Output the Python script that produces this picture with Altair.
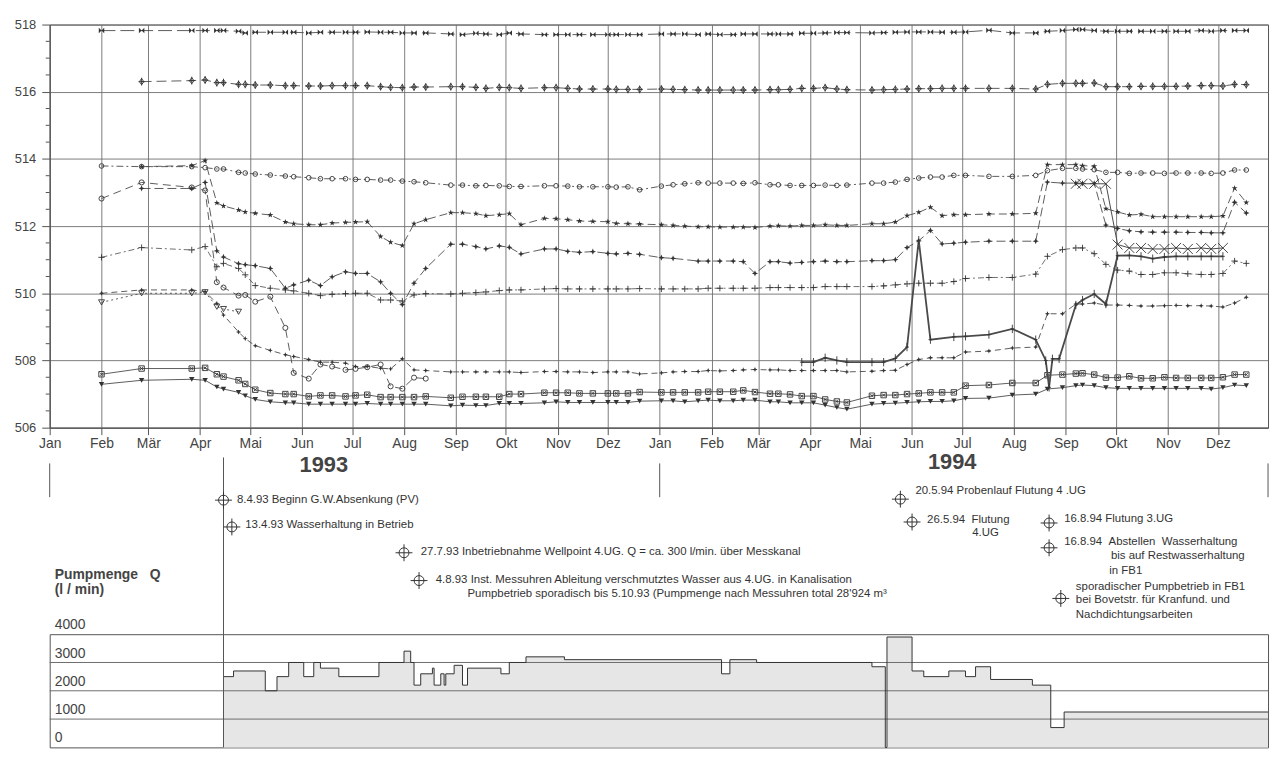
import altair as alt
import pandas as pd

# ------------------------------------------------------------------ data
DATES = [
    "1993-02-01", "1993-02-25", "1993-03-27", "1993-04-04", "1993-04-11", "1993-04-15",
    "1993-04-24", "1993-04-28", "1993-05-04", "1993-05-13", "1993-05-22", "1993-05-27",
    "1993-06-05", "1993-06-12", "1993-06-19", "1993-06-27", "1993-07-03", "1993-07-10",
    "1993-07-18", "1993-07-24", "1993-07-31", "1993-08-07", "1993-08-14", "1993-08-29",
    "1993-09-05", "1993-09-13", "1993-09-19", "1993-09-27", "1993-10-03", "1993-10-10",
    "1993-10-24", "1993-10-31", "1993-11-07", "1993-11-14", "1993-11-22", "1993-12-01",
    "1993-12-06", "1993-12-13", "1993-12-20", "1994-01-02", "1994-01-09", "1994-01-16",
    "1994-01-24", "1994-01-30", "1994-02-06", "1994-02-14", "1994-02-20", "1994-02-27",
    "1994-03-08", "1994-03-13", "1994-03-20", "1994-03-27", "1994-04-03", "1994-04-10",
    "1994-04-17", "1994-04-23", "1994-05-08", "1994-05-15", "1994-05-22", "1994-05-29",
    "1994-06-05", "1994-06-12", "1994-06-19", "1994-06-26", "1994-07-03", "1994-07-17",
    "1994-07-31", "1994-08-14", "1994-08-21", "1994-08-30", "1994-09-07", "1994-09-11",
    "1994-09-18", "1994-09-25", "1994-10-02", "1994-10-09", "1994-10-16", "1994-10-23",
    "1994-10-30", "1994-11-06", "1994-11-13", "1994-11-21", "1994-11-27", "1994-12-04",
    "1994-12-11", "1994-12-18",
]

S1 = [
    517.82, 517.82, 517.82, 517.82, 517.82, 517.82,
    517.80, 517.75, 517.77, 517.77, 517.77, 517.77,
    517.75, 517.77, 517.77, 517.77, 517.77, 517.78,
    517.77, 517.77, 517.75, 517.75, 517.75, 517.72,
    517.70, 517.74, 517.72, 517.70, 517.75, 517.72,
    517.70, 517.70, 517.70, 517.70, 517.70, 517.70,
    517.70, 517.70, 517.70, 517.72, 517.72, 517.72,
    517.70, 517.72, 517.70, 517.70, 517.72, 517.72,
    517.72, 517.72, 517.72, 517.74, 517.74, 517.75,
    517.76, 517.76, 517.75, 517.76, 517.77, 517.78,
    517.78, 517.78, 517.77, 517.77, 517.78, 517.83,
    517.75, 517.75, 517.80, 517.82, 517.85, 517.85,
    517.82, 517.80, 517.80, 517.80, 517.80, 517.80,
    517.80, 517.80, 517.80, 517.82, 517.80, 517.82,
    517.82, 517.82,
]
S2 = [
    None, 516.30, 516.33, 516.35, 516.27, 516.27,
    516.22, 516.22, 516.20, 516.20, 516.18, 516.18,
    516.17, 516.17, 516.18, 516.18, 516.18, 516.18,
    516.15, 516.13, 516.12, 516.14, 516.14, 516.15,
    516.15, 516.13, 516.10, 516.13, 516.12, 516.10,
    516.12, 516.12, 516.10, 516.08, 516.08, 516.08,
    516.07, 516.07, 516.07, 516.08, 516.07, 516.06,
    516.05, 516.05, 516.05, 516.05, 516.05, 516.05,
    516.06, 516.06, 516.07, 516.10, 516.10, 516.12,
    516.08, 516.06, 516.05, 516.06, 516.07, 516.08,
    516.09, 516.09, 516.10, 516.10, 516.10, 516.10,
    516.10, 516.08, 516.22, 516.25, 516.25, 516.25,
    516.26, 516.15, 516.15, 516.15, 516.16, 516.16,
    516.16, 516.16, 516.17, 516.18, 516.18, 516.17,
    516.22, 516.21,
]
S3 = [
    513.79, 513.77, 513.77, 513.74, 513.70, 513.70,
    513.60, 513.58, 513.55, 513.52, 513.49, 513.47,
    513.44, 513.41, 513.41, 513.41, 513.39, 513.39,
    513.37, 513.37, 513.34, 513.32, 513.29, 513.22,
    513.22, 513.20, 513.21, 513.20, 513.18, 513.18,
    513.20, 513.20, 513.19, 513.17, 513.17, 513.17,
    513.16, 513.17, 513.08, 513.19, 513.23, 513.26,
    513.29, 513.28, 513.28, 513.28, 513.27, 513.29,
    513.23, 513.23, 513.21, 513.21, 513.21, 513.22,
    513.21, 513.22, 513.28, 513.28, 513.31, 513.39,
    513.43, 513.46, 513.46, 513.51, 513.51, 513.48,
    513.48, 513.51, 513.65, 513.72, 513.72, 513.70,
    513.68, 513.60, 513.60, 513.57, 513.58, 513.58,
    513.57, 513.58, 513.58, 513.58, 513.57, 513.58,
    513.67, 513.67,
]
S4 = [
    None, 513.77, 513.80, 513.95, 512.69, 512.60,
    512.48, 512.42, 512.38, 512.33, 512.12, 512.07,
    512.04, 512.04, 512.09, 512.11, 512.12, 512.13,
    511.69, 511.52, 511.42, 512.07, 512.19, 512.40,
    512.40, 512.37, 512.31, 512.34, 512.37, 512.04,
    512.23, 512.22, 512.19, 512.15, 512.14, 512.13,
    512.08, 512.07, 512.06, 512.04, 512.02, 512.00,
    511.98, 511.98, 511.97, 511.97, 511.97, 511.96,
    512.00, 512.01, 512.00, 512.02, 512.02, 512.04,
    512.02, 512.02, 512.07, 512.07, 512.12, 512.31,
    512.41, 512.56, 512.31, 512.34, 512.34, 512.36,
    512.36, 512.38, 513.83, 513.83, 513.83, 513.80,
    513.78, 512.52, 512.42, 512.33, 512.35, 512.28,
    512.28, 512.28, 512.28, 512.28, 512.28, 512.30,
    513.13, 512.70,
]
S5 = [
    None, 513.12, 513.12, 513.30, 511.26, 511.08,
    510.88, 510.85, 510.82, 510.74, 510.15, 510.25,
    510.39, 510.23, 510.49, 510.64, 510.59, 510.59,
    510.34, 510.00, 509.66, 510.30, 510.74, 511.46,
    511.46, 511.39, 511.32, 511.41, 511.37, 511.17,
    511.32, 511.32, 511.25, 511.22, 511.24, 511.19,
    511.17, 511.19, 511.16, 511.06, 511.04, None,
    510.96, 510.96, 510.96, 510.96, 510.94, 510.59,
    510.94, 510.94, 510.90, 510.92, 510.94, 510.96,
    510.94, 510.94, 510.97, 510.97, 511.00, 511.36,
    511.56, 511.87, 511.47, 511.49, 511.52, 511.55,
    511.55, 511.55, 513.31, 513.28, 513.28, 513.27,
    513.27, 512.03, 511.93, 511.86, 511.83, 511.82,
    511.82, 511.82, 511.81, 511.81, 511.80, 511.80,
    512.71, 512.39,
]
S6 = [
    511.07, 511.36, 511.29, 511.39, 510.79, 510.89,
    510.74, 510.55, 510.23, 510.15, 510.10, 510.07,
    510.00, 509.93, 509.97, 509.99, 510.00, 510.00,
    509.80, 509.80, 509.77, 509.95, 509.99, 509.98,
    510.00, 510.02, 510.04, 510.08, 510.10, 510.10,
    510.13, 510.14, 510.13, 510.13, 510.13, 510.13,
    510.13, 510.13, 510.14, 510.13, 510.13, 510.13,
    510.13, 510.15, 510.15, 510.15, 510.15, 510.15,
    510.17, 510.17, 510.17, 510.17, 510.17, 510.20,
    510.20, 510.20, 510.20, 510.22, 510.25, 510.28,
    510.30, 510.30, 510.30, 510.35, 510.44, 510.47,
    510.47, 510.57, 511.10, 511.30, 511.35, 511.35,
    511.18, 510.86, 510.69, 510.66, 510.56, 510.56,
    510.61, 510.61, 510.58, 510.56, 510.56, 510.59,
    510.96, 510.89,
]
S7 = [
    510.00, 510.10, 510.10, 510.05, 509.70, 509.35,
    508.85, 508.65, 508.44, 508.30, 508.17, 508.12,
    508.03, 507.95, 507.95, 507.92, 507.82, 507.82,
    507.77, 507.75, 508.05, 507.72, 507.70, 507.66,
    507.66, 507.66, 507.66, 507.66, 507.66, 507.64,
    507.67, 507.67, 507.66, 507.66, 507.64, 507.66,
    507.66, 507.66, 507.60, 507.63, 507.66, 507.67,
    507.67, 507.70, 507.69, 507.70, 507.72, 507.73,
    507.72, 507.72, 507.70, 507.70, 507.70, 507.70,
    507.70, 507.66, 507.68, 507.70, 507.71, 507.88,
    508.03, 508.08, 508.08, 508.08, 508.25, 508.28,
    508.37, 508.40, 509.39, 509.39, 509.68, 509.68,
    509.71, 509.65, 509.65, 509.64, 509.62, 509.62,
    509.63, 509.64, 509.63, 509.63, 509.62, 509.59,
    509.71, 509.88,
]
S8_DATES = DATES[:23]
S8 = [
    512.82, 513.30, 513.15, 513.06, 510.33, 510.17,
    509.93, 509.95, 509.75, 509.90, 508.97, 507.63,
    507.46, 507.88, 507.82, 507.72, 507.75, 507.80,
    507.88, 507.23, 507.16, 507.49, 507.46,
]
S9_DATES = DATES[:7]
S9 = [509.73, 510.00, 510.00, 510.03, 509.60, 509.53, 509.45]
S10 = [
    507.59, 507.76, 507.76, 507.78, 507.59, 507.52,
    507.41, 507.30, 507.13, 507.03, 507.00, 507.00,
    506.93, 506.96, 506.96, 506.93, 506.96, 506.98,
    506.91, 506.91, 506.91, 506.91, 506.93, 506.89,
    506.92, 506.92, 506.92, 506.92, 507.00, 507.00,
    507.04, 507.04, 507.04, 507.02, 507.02, 507.02,
    507.02, 507.02, 507.06, 507.05, 507.05, 507.05,
    507.05, 507.07, 507.07, 507.07, 507.11, 507.06,
    507.01, 507.01, 506.99, 506.94, 506.94, 506.84,
    506.78, 506.75, 506.95, 506.97, 506.97, 507.00,
    507.02, 507.05, 507.05, 507.05, 507.25, 507.27,
    507.33, 507.33, 507.56, 507.58, 507.61, 507.62,
    507.58, 507.49, 507.49, 507.53, 507.47, 507.47,
    507.50, 507.48, 507.48, 507.48, 507.48, 507.50,
    507.58, 507.58,
]
S11 = [
    507.29, 507.41, 507.44, 507.41, 507.21, 507.15,
    507.05, 506.95, 506.84, 506.77, 506.74, 506.74,
    506.70, 506.70, 506.70, 506.70, 506.70, 506.72,
    506.70, 506.70, 506.70, 506.70, 506.70, 506.65,
    506.67, 506.66, 506.66, 506.72, 506.72, 506.72,
    506.74, 506.77, 506.75, 506.75, 506.75, 506.75,
    506.75, 506.75, 506.79, 506.80, 506.80, 506.77,
    506.80, 506.82, 506.80, 506.80, 506.82, 506.82,
    506.77, 506.77, 506.74, 506.74, 506.74, 506.67,
    506.60, 506.55, 506.70, 506.72, 506.73, 506.75,
    506.77, 506.78, 506.78, 506.80, 506.87, 506.88,
    506.97, 507.00, 507.15, 507.19, 507.25, 507.27,
    507.25, 507.19, 507.17, 507.17, 507.17, 507.17,
    507.17, 507.17, 507.17, 507.17, 507.15, 507.19,
    507.27, 507.25,
]
S12_DATES = [
    "1994-03-27", "1994-04-03", "1994-04-10", "1994-04-17", "1994-04-23", "1994-05-08",
    "1994-05-15", "1994-05-22", "1994-05-29", "1994-06-05", "1994-06-12", "1994-06-26",
    "1994-07-03", "1994-07-17", "1994-07-31", "1994-08-14", "1994-08-20", "1994-08-22",
    "1994-08-24", "1994-08-28", "1994-09-07", "1994-09-11", "1994-09-18", "1994-09-25",
    "1994-10-02", "1994-10-09", "1994-10-16", "1994-10-23", "1994-10-30", "1994-11-06",
    "1994-11-13", "1994-11-21", "1994-11-27", "1994-12-04",
]
S12 = [
    507.95, 507.95, 508.08, 508.00, 507.95, 507.95,
    507.95, 508.06, 508.40, 511.58, 508.62, 508.70,
    508.72, 508.77, 508.94, 508.62, 508.00, 507.20,
    508.05, 508.05, 509.65, 509.80, 509.98, 509.68,
    511.12, 511.13, 511.10, 511.03, 511.08, 511.10,
    511.10, 511.10, 511.10, 511.10,
]
S13_DATES = DATES[70:84]
S13 = [
    513.26, 513.26, 513.26, 513.26, 511.45, 511.35, 511.35,
    511.32, 511.32, 511.35, 511.32, 511.35, 511.32, 511.35,
]

PUMP_DATES = [
    "1993-04-15", "1993-04-21", "1993-05-10", "1993-05-17", "1993-05-24", "1993-06-02",
    "1993-06-08", "1993-06-12", "1993-06-23", "1993-07-17", "1993-08-01", "1993-08-05",
    "1993-08-07", "1993-08-11", "1993-08-18", "1993-08-19", "1993-08-23", "1993-08-25",
    "1993-08-26", "1993-08-31", "1993-09-05", "1993-09-08", "1993-09-28", "1993-10-03",
    "1993-10-13", "1993-11-05", "1994-02-07", "1994-02-12", "1994-02-28", "1994-05-08",
    "1994-05-16", "1994-05-17", "1994-06-01", "1994-06-08", "1994-06-23", "1994-07-03",
    "1994-07-09", "1994-07-18", "1994-08-12", "1994-08-23", "1994-08-31", "1994-12-31",
]
PUMP_Q = [
    2500, 2700, 2000, 2500, 3000, 2500,
    3000, 2800, 2500, 3000, 3400, 3000,
    2200, 2600, 2800, 2200, 2600, 2200,
    2600, 2900, 2200, 2800, 2600, 3000,
    3200, 3100, 2600, 3100, 3000, 2850,
    0, 3900, 2700, 2500, 2700, 2500,
    2850, 2400, 2200, 700, 1250, 1250,
]

MONTHS = ["Jan", "Feb", "Mär", "Apr", "Mai", "Jun", "Jul", "Aug", "Sep", "Okt", "Nov", "Dez"]
Y_TICKS = [506, 508, 510, 512, 514, 516, 518]
Y_MINOR = [506.5, 507, 507.5, 508.5, 509, 509.5, 510.5, 511, 511.5, 512.5, 513, 513.5,
           514.5, 515, 515.5, 516.5, 517, 517.5]
PUMP_TICKS = [0, 1000, 2000, 3000, 4000]
PUMP_GRID = [1000, 2000, 3000]

YEAR_TEXT = ["1993", "1994"]
YEAR_DATES = ["1993-06-14", "1994-06-25"]
PUMP_START = "1993-04-15"
SEP_DATES = ["1993-01-01", "1994-01-01", "1994-12-31"]

NOTE_TEXT = [
    "8.4.93 Beginn G.W.Absenkung (PV)",
    "13.4.93 Wasserhaltung in Betrieb",
    "27.7.93 Inbetriebnahme Wellpoint 4.UG. Q = ca. 300 l/min. über Messkanal",
    "4.8.93 Inst. Messuhren Ableitung verschmutztes Wasser aus 4.UG. in Kanalisation",
    "Pumpbetrieb sporadisch bis 5.10.93 (Pumpmenge nach Messuhren total 28'924 m³",
    "20.5.94 Probenlauf Flutung 4 .UG",
    "26.5.94\u00a0\u00a0Flutung",
    "4.UG",
    "16.8.94 Flutung 3.UG",
    "16.8.94\u00a0\u00a0Abstellen\u00a0\u00a0Wasserhaltung",
    "bis auf Restwasserhaltung",
    "in FB1",
    "sporadischer Pumpbetrieb in FB1",
    "bei Bovetstr. für Kranfund. und",
    "Nachdichtungsarbeiten",
]
NOTE_DATES = ["1993-04-23", "1993-04-28", "1993-08-11", "1993-08-20", "1993-09-08",
              "1994-06-03", "1994-06-10", "1994-07-07", "1994-08-31", "1994-08-31",
              "1994-09-28", "1994-09-27", "1994-09-07", "1994-09-07", "1994-09-07"]
CROSS_DATES = ["1993-04-15", "1993-04-20", "1993-08-01", "1993-08-10", "1994-05-25",
               "1994-06-01", "1994-08-22", "1994-08-22", "1994-08-29"]
PUMP_TITLE = ["Pumpmenge\u00a0\u00a0\u00a0Q", "(l / min)"]

# ------------------------------------------------------------------ layout / style
W, HA, HB, HC = 1227, 406, 208, 114
NOTE_ROWS = [73, 98, 125, 153, 168, 64, 93, 106, 92, 115, 129, 144, 160, 174, 189]
CROSS_ROWS = [73, 100, 126, 154, 72, 95, 96, 121, 172]
YEAR_ROWS = [38, 35]
TITLE_ROWS = [148, 164]
FONT = "Liberation Sans"
INK = "#333333"
LINE = "#4a4a4a"
GRIDC = "#6e6e6e"
AXC = "#555555"
TXT = "#444444"

P_BOWTIE = "M-1,-1L1,1L1,-1L-1,1Z"
P_PLUSDIA = "M0,-1L0.7,0L0,1L-0.7,0ZM0,-1.25L0,1.25M-1,0L1,0"
P_STAR5 = ("M0,-1L0.224,-0.309L0.951,-0.309L0.363,0.118L0.588,0.809L0,0.382"
           "L-0.588,0.809L-0.363,0.118L-0.951,-0.309L-0.224,-0.309Z")
P_STAR4 = "M0,-1L0.28,-0.28L1,0L0.28,0.28L0,1L-0.28,0.28L-1,0L-0.28,-0.28Z"
P_PLUS = "M-1,0L1,0M0,-1L0,1"
P_BOXX = "M-1,-1L1,-1L1,1L-1,1ZM-0.6,-0.6L0.6,0.6M-0.6,0.6L0.6,-0.6"
P_TICK = "M0,-1L0,1M-0.45,0L0.45,0"
P_X = "M-1,-1L1,1M-1,1L1,-1"
P_CROSSHAIR = "M-1,0A1,1,0,1,1,1,0A1,1,0,1,1,-1,0ZM-1.7,0L1.7,0M0,-1.7L0,1.7"

SERIES = [
    (DATES, S1, P_BOWTIE, 30, True, [14, 5], 0.9),
    (DATES, S2, P_PLUSDIA, 40, False, [10, 5], 0.9),
    (DATES, S3, "circle", 22, False, [7, 3, 2, 3], 0.9),
    (DATES, S4, P_STAR5, 40, True, [8, 4], 0.9),
    (DATES, S5, P_STAR4, 40, True, [9, 4], 0.9),
    (DATES, S6, P_PLUS, 40, False, [6, 3, 2, 3], 0.8),
    (DATES, S7, P_STAR4, 26, True, [6, 4], 0.9),
    (S8_DATES, S8, "circle", 26, False, [8, 5], 0.9),
    (S9_DATES, S9, "triangle-down", 36, False, [2, 3], 0.9),
    (DATES, S10, P_BOXX, 30, False, None, 0.9),
    (DATES, S11, "triangle-down", 30, True, None, 0.9),
    (S12_DATES, S12, P_TICK, 70, False, None, 1.8),
    (S13_DATES, S13, P_X, 100, False, None, 1.0),
]

# ------------------------------------------------------------------ scales / axes
XDOM = [alt.DateTime(year=1993, month=1, date=1, utc=True),
        alt.DateTime(year=1994, month=12, date=31, utc=True)]
XS = alt.Scale(type="utc", domain=XDOM)
MONTH_TICKS = [alt.DateTime(year=y, month=m, date=1, utc=True)
               for y in (1993, 1994) for m in range(1, 13)]
label_expr = "[" + ",".join("'%s'" % m for m in MONTHS) + "][utcmonth(datum.value)]"

AX_X = alt.Axis(values=MONTH_TICKS, labelExpr=label_expr, grid=True, gridColor=GRIDC,
                gridWidth=0.9, tickSize=7, tickColor=AXC, domainColor=AXC,
                labelFontSize=14, labelColor=TXT, labelPadding=2, labelFlush=False,
                labelOverlap=False)
AX_Y = alt.Axis(values=Y_TICKS, grid=True, gridColor=GRIDC, gridWidth=0.9, tickSize=8,
                tickColor=AXC, domainColor=AXC, labelFontSize=13, labelColor=TXT,
                labelPadding=6)
X = alt.X("date:T", scale=XS, axis=AX_X, title=None)
Y = alt.Y("value:Q", scale=alt.Scale(domain=[506, 518], nice=False, zero=False),
          axis=AX_Y, title=None)

# ------------------------------------------------------------------ panel A: water levels
layers = [
    alt.Chart(pd.DataFrame({"value": Y_MINOR})).mark_rule(color=AXC).encode(
        y=Y, x=alt.value(-4), x2=alt.value(0))
]
for dts, vals, shape, size, filled, dash, sw in SERIES:
    df = pd.DataFrame({"date": dts, "value": vals}).dropna()
    lkw = dict(color=LINE, strokeWidth=sw)
    if dash:
        lkw["strokeDash"] = dash
    layers.append(alt.Chart(df).mark_line(**lkw).encode(x=X, y=Y))
    layers.append(alt.Chart(df).mark_point(shape=shape, size=size, filled=filled, color=INK,
                                           opacity=1, strokeWidth=0.9).encode(x=X, y=Y))
panel_a = alt.layer(*layers).properties(
    width=W, height=HA, view=alt.ViewBackground(stroke=AXC, strokeWidth=1))

# ------------------------------------------------------------------ panel B: annotations
XB = alt.X("date:T", scale=XS, axis=None)
YB = alt.Y("row:Q", scale=alt.Scale(domain=[0, HB], reverse=True, nice=False, zero=False),
           axis=None)
years = alt.Chart(pd.DataFrame({"date": YEAR_DATES, "row": YEAR_ROWS, "t": YEAR_TEXT})
                  ).mark_text(fontSize=22, fontWeight="bold", color=TXT, align="center",
                              baseline="middle").encode(x=XB, y=YB, text="t:N")
seps = alt.Chart(pd.DataFrame({"date": SEP_DATES, "row": [36] * 3, "row2": [70] * 3})
                 ).mark_rule(color=AXC).encode(x=XB, y=YB, y2="row2:Q")
start_b = alt.Chart(pd.DataFrame({"date": [PUMP_START], "row": [30], "row2": [HB]})
                    ).mark_rule(color=AXC).encode(x=XB, y=YB, y2="row2:Q")
crosses = alt.Chart(pd.DataFrame({"date": CROSS_DATES, "row": CROSS_ROWS})).mark_point(
    shape=P_CROSSHAIR, size=100, filled=False, color=INK, opacity=1, strokeWidth=1
).encode(x=XB, y=YB)
notes = alt.Chart(pd.DataFrame({"date": NOTE_DATES, "row": NOTE_ROWS, "t": NOTE_TEXT})
                  ).mark_text(fontSize=11.5, color=INK, align="left", baseline="middle"
                              ).encode(x=XB, y=YB, text="t:N")
ptitle = alt.Chart(pd.DataFrame({"date": ["1993-01-04"] * 2, "row": TITLE_ROWS, "t": PUMP_TITLE})
                   ).mark_text(fontSize=14, fontWeight="bold", color=TXT, align="left",
                               baseline="middle").encode(x=XB, y=YB, text="t:N")
panel_b = alt.layer(start_b, seps, years, crosses, notes, ptitle).properties(
    width=W, height=HB, view=alt.ViewBackground(stroke="transparent"))

# ------------------------------------------------------------------ panel C: pump rate
XC = alt.X("date:T", scale=XS, axis=None)
YC = alt.Y("q:Q", scale=alt.Scale(domain=[0, 4000], nice=False), axis=None, title=None)
pump_df = pd.DataFrame({"date": PUMP_DATES, "q": PUMP_Q})
area = alt.Chart(pump_df).mark_area(interpolate="step-after", color="#e6e6e6",
                                    opacity=1).encode(x=XC, y=YC)
hgrid = alt.Chart(pd.DataFrame({"q": PUMP_GRID})).mark_rule(color=GRIDC, strokeWidth=1
                                                            ).encode(y=YC)
step = alt.Chart(pump_df).mark_line(interpolate="step-after", color=INK,
                                    strokeWidth=1).encode(x=XC, y=YC)
start_c = alt.Chart(pd.DataFrame({"date": [PUMP_START]})).mark_rule(color=AXC).encode(x=XC)
plabels = alt.Chart(pd.DataFrame({"date": ["1993-01-01"] * 5, "q": PUMP_TICKS,
                                  "t": [str(v) for v in PUMP_TICKS]})).mark_text(
    fontSize=14, color=TXT, align="left", baseline="middle", dx=5, dy=-9
).encode(x=XC, y=YC, text="t:N")
panel_c = alt.layer(area, hgrid, step, start_c, plabels).properties(
    width=W, height=HC, view=alt.ViewBackground(stroke=AXC, strokeWidth=1))

chart = alt.vconcat(panel_a, panel_b, panel_c, spacing=0, bounds="flush").properties(
    padding={"left": 5, "top": 7, "right": 0, "bottom": 0}
).configure(font=FONT, background="white").configure_axis(labelFont=FONT)

chart.save("out.html", embed_options={"renderer": "svg", "actions": False})
